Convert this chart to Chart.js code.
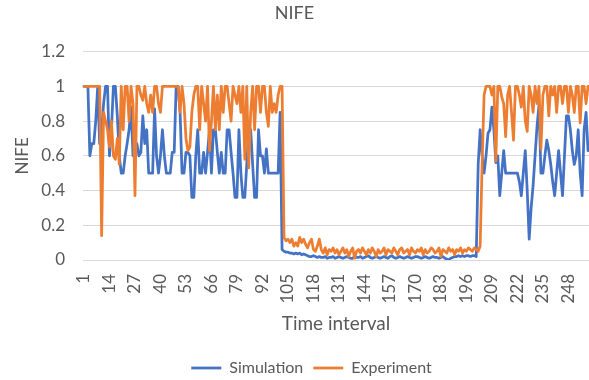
<!DOCTYPE html>
<html>
<head>
<meta charset="utf-8">
<title>NIFE</title>
<script src="https://cdn.jsdelivr.net/npm/chart.js@4/dist/chart.umd.min.js"></script>
<style>
  html, body { margin: 0; padding: 0; background: #ffffff; }
  #wrap { width: 589px; height: 380px; }
</style>
</head>
<body>
<div id="wrap"><canvas id="nifeChart" width="589" height="380"></canvas></div>
<script>
/* ── Datos (258 intervalos) ── */
var simulation = [
  1, 1, 1, 0.6, 0.67, 0.67, 0.8, 1, 0.67, 0.75,
  0.9, 1, 1, 0.6, 0.75, 1, 1, 0.83, 0.6, 0.5,
  0.5, 0.6, 0.67, 0.75, 0.88, 0.6, 0.6, 0.67, 0.6, 0.62,
  0.83, 0.67, 0.75, 0.5, 0.5, 0.5, 0.87, 0.6, 0.5, 0.6,
  0.75, 0.6, 0.5, 0.5, 0.5, 0.62, 0.62, 1, 1, 0.85,
  0.5, 0.5, 0.62, 0.62, 0.6, 0.36, 0.36, 0.6, 0.75, 0.5,
  0.5, 0.62, 0.5, 0.62, 0.75, 0.5, 0.75, 0.75, 0.62, 0.5,
  0.62, 0.5, 0.5, 0.75, 0.75, 0.62, 0.5, 0.36, 0.36, 0.75,
  0.5, 0.36, 0.36, 0.55, 0.75, 0.75, 0.55, 0.36, 0.36, 0.75,
  0.6, 0.6, 0.5, 0.64, 0.5, 0.5, 0.5, 0.5, 0.5, 0.5,
  0.85, 0.06, 0.05, 0.045, 0.045, 0.04, 0.04, 0.035, 0.04, 0.035,
  0.04, 0.03, 0.035, 0.03, 0.025, 0.02, 0.02, 0.025, 0.02, 0.015,
  0.02, 0.015, 0.015, 0.02, 0.01, 0.015, 0.015, 0.02, 0.01, 0.015,
  0.02, 0.015, 0.01, 0.015, 0.02, 0.015, 0.01, 0.01, 0.02, 0.015,
  0.015, 0.02, 0.01, 0.015, 0.02, 0.025, 0.015, 0.01, 0.015, 0.02,
  0.015, 0.01, 0.015, 0.02, 0.015, 0.01, 0.02, 0.025, 0.015, 0.01,
  0.015, 0.02, 0.015, 0.01, 0.015, 0.02, 0.015, 0.01, 0.015, 0.02,
  0.02, 0.015, 0.01, 0.015, 0.02, 0.015, 0.01, 0.015, 0.02, 0.015,
  0.015, 0.01, 0.015, 0.02, 0.01, 0.005, 0, 0.01, 0.015, 0.02,
  0.02, 0.025, 0.02, 0.025, 0.02, 0.025, 0.025, 0.02, 0.025, 0.025,
  0.02, 0.55, 0.75, 0.6, 0.5, 0.6, 0.73, 0.75, 0.88, 0.75,
  0.56, 0.6, 0.37, 0.5, 0.63, 0.5, 0.5, 0.5, 0.5, 0.5,
  0.5, 0.5, 0.45, 0.37, 0.5, 0.63, 0.4, 0.12, 0.3, 0.43,
  0.6, 0.77, 0.89, 0.5, 0.5, 0.6, 0.69, 0.63, 0.55, 0.45,
  0.37, 0.5, 0.63, 0.5, 0.37, 0.6, 0.83, 0.83, 0.75, 0.63,
  0.55, 0.6, 0.75, 0.5, 0.37, 0.75, 0.85, 0.63
];

var experiment = [
  1, 1, 1, 1, 1, 1, 1, 1, 1, 0.14,
  0.85, 0.8, 0.75, 0.65, 0.8, 0.6, 0.58, 0.7, 0.55, 1,
  0.75, 1, 1, 0.8, 1, 0.9, 0.37, 1, 1, 0.95,
  0.92, 1, 0.9, 0.85, 0.95, 0.85, 1, 1, 0.9, 0.85,
  1, 1, 1, 1, 1, 1, 1, 1, 1, 0.85,
  1, 0.9, 0.7, 0.63, 0.65, 0.85, 0.95, 1, 1, 0.75,
  1, 0.9, 0.8, 1, 0.63, 0.8, 1, 0.75, 0.95, 0.75,
  1, 0.85, 1, 1, 0.9, 0.8, 1, 0.95, 0.9, 1,
  0.85, 1, 0.58, 1, 0.53, 0.85, 1, 0.75, 1, 1,
  0.85, 1, 1, 0.85, 0.77, 1, 0.85, 0.9, 0.85, 0.95,
  1, 1, 0.13, 0.11, 0.12, 0.1, 0.12, 0.08, 0.1, 0.08,
  0.13, 0.1, 0.12, 0.09, 0.07, 0.1, 0.12, 0.06, 0.05, 0.08,
  0.12, 0.06, 0.04, 0.07, 0.03, 0.06, 0.05, 0.07, 0.04, 0.06,
  0.03, 0.05, 0.07, 0.04, 0.06, 0.02, 0.05, 0.07, 0.01, 0.05,
  0.06, 0.04, 0.07, 0.05, 0.03, 0.06, 0.04, 0.07, 0.05, 0.02,
  0.06, 0.04, 0.05, 0.07, 0.03, 0.06, 0.05, 0.04, 0.07, 0.05,
  0.03, 0.06, 0.07, 0.04, 0.05, 0.06, 0.03, 0.07, 0.05, 0.04,
  0.06, 0.05, 0.07, 0.03, 0.06, 0.04, 0.05, 0.07, 0.06, 0.04,
  0.05, 0.07, 0.02, 0.06, 0.05, 0.04, 0.07, 0.05, 0.06, 0.03,
  0.06, 0.05, 0.07, 0.04, 0.06, 0.05, 0.07, 0.06, 0.05, 0.07,
  0.06, 0.05, 0.08, 0.55, 0.95, 1, 1, 1, 0.95, 1,
  0.57, 1, 1, 0.94, 0.9, 0.71, 0.95, 1, 0.85, 0.69,
  1, 1, 0.95, 0.88, 1, 0.8, 0.74, 1, 0.95, 0.85,
  1, 0.9, 1, 0.64, 0.95, 1, 1, 0.83, 1, 0.95,
  1, 0.85, 1, 1, 0.9, 1, 1, 0.85, 1, 0.95,
  0.85, 1, 1, 0.79, 1, 1, 0.9, 1
];

/* Categorías: intervalos 1..258; sólo se rotulan cada 13 */
var intervals = [];
for (var n = 1; n <= simulation.length; n++) intervals.push(String(n));
var shownTicks = ['1', '14', '27', '40', '53', '66', '79', '92', '105', '118', '131',
                  '144', '157', '170', '183', '196', '209', '222', '235', '248'];

var TEXT = '#595959';
var FONT = 'Lato';

/* Desplaza la leyenda para que quede donde la pone Excel */
var legendShift = {
  id: 'legendShift',
  afterLayout: function(chart) {
    var lg = chart.legend;
    if (!lg) return;
    lg.left += 17; lg.right += 17;
    lg.top += 8;   lg.bottom += 8;
  }
};

var ctx = document.getElementById('nifeChart').getContext('2d');
new Chart(ctx, {
  type: 'line',
  data: {
    labels: intervals,
    datasets: [
      {
        label: 'Simulation',
        data: simulation,
        borderColor: '#4472C4',
        backgroundColor: '#4472C4',
        borderWidth: 2.75,
        pointRadius: 0,
        borderJoinStyle: 'round',
        borderCapStyle: 'round',
        tension: 0,
        order: 1
      },
      {
        label: 'Experiment',
        data: experiment,
        borderColor: '#ED7D31',
        backgroundColor: '#ED7D31',
        borderWidth: 2.75,
        pointRadius: 0,
        borderJoinStyle: 'round',
        borderCapStyle: 'round',
        tension: 0,
        order: 0
      }
    ]
  },
  plugins: [legendShift],
  options: {
    responsive: false,
    animation: false,
    layout: { padding: { left: 0, right: 0, top: 0, bottom: 2 } },
    plugins: {
      title: {
        display: true,
        text: 'NIFE',
        color: TEXT,
        font: { family: FONT, size: 18, weight: 'normal' },
        padding: { top: 2, bottom: 28 }
      },
      legend: {
        position: 'bottom',
        labels: {
          usePointStyle: true,
          pointStyle: 'line',
          pointStyleWidth: 30,
          boxHeight: 14,
          padding: 10,
          color: TEXT,
          font: { family: FONT, size: 16 },
          sort: function(a, b) { return a.datasetIndex - b.datasetIndex; }
        }
      },
      tooltip: { enabled: false }
    },
    scales: {
      x: {
        offset: true,
        grid: { display: false, drawTicks: false },
        border: { display: false },
        ticks: {
          autoSkip: false,
          minRotation: 90,
          maxRotation: 90,
          padding: 14,
          color: TEXT,
          font: { family: FONT, size: 17 },
          callback: function(value) {
            var lab = this.getLabelForValue(value);
            return shownTicks.indexOf(lab) >= 0 ? lab : '';
          }
        },
        title: {
          display: true,
          text: 'Time interval',
          color: TEXT,
          font: { family: FONT, size: 19 },
          padding: { top: 0, bottom: 7 }
        },
        afterFit: function(scale) {
          var lg = scale.chart.legend ? scale.chart.legend.height : 38;
          scale.height = 380 - 260 - lg - 2;
          scale.paddingLeft = 0;
          scale.paddingRight = 0;
        }
      },
      y: {
        min: 0,
        max: 1.2,
        grid: { color: '#D9D9D9', lineWidth: 1, drawTicks: false },
        border: { display: false },
        ticks: {
          stepSize: 0.2,
          padding: 18,
          color: TEXT,
          font: { family: FONT, size: 17 },
          callback: function(v) { return String(+v.toFixed(1)); }
        },
        title: {
          display: true,
          text: 'NIFE',
          color: TEXT,
          font: { family: FONT, size: 17 },
          padding: { top: 12, bottom: 0 }
        },
        afterFit: function(scale) { scale.width = 83; }
      }
    }
  }
});
</script>
</body>
</html>
